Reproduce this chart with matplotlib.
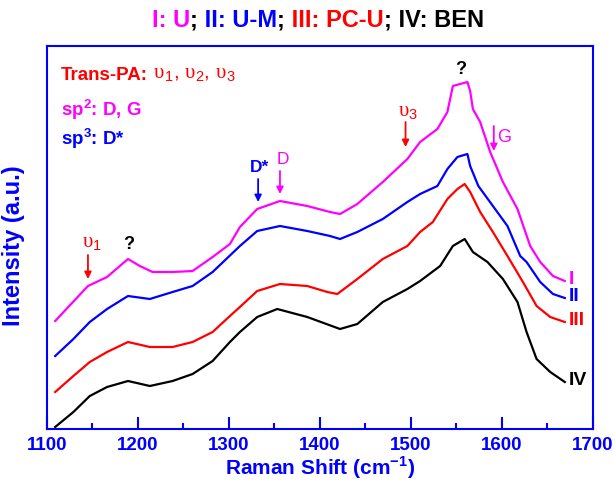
import matplotlib
matplotlib.use('Agg')
import matplotlib.pyplot as plt
from matplotlib.ticker import MultipleLocator

plt.rcParams['font.family'] = 'Liberation Sans'
plt.rcParams['mathtext.fontset'] = 'custom'
plt.rcParams['mathtext.rm'] = 'Liberation Serif'
plt.rcParams['mathtext.sf'] = 'Liberation Sans'
plt.rcParams['mathtext.bf'] = 'Liberation Sans:bold'

MAG = '#ff00ff'
BLUE = '#0000ff'
RED = '#ff0000'
BLACK = '#000000'

# Raman spectra (shift in cm-1, intensity in a.u.)
shift_I = [1109, 1145, 1166, 1189, 1202, 1216, 1238, 1260, 1282, 1301, 1312, 1331, 1356, 1386,
           1411, 1422, 1441, 1469, 1496, 1510, 1529, 1540, 1546, 1554, 1562, 1565, 1568, 1576,
           1587, 1601, 1617, 1631, 1642, 1656, 1669]
int_I = [108, 143, 152, 170, 163, 157, 157, 158, 172, 185, 202, 220, 228, 223,
         217, 215, 225, 247, 270, 287, 300, 317, 343, 345, 347, 338, 320, 307,
         277, 247, 220, 183, 167, 153, 148]

shift_II = [1109, 1129, 1147, 1166, 1189, 1213, 1238, 1260, 1282, 1312, 1331, 1356, 1386, 1411,
            1422, 1441, 1469, 1496, 1510, 1529, 1540, 1551, 1562, 1565, 1574, 1590, 1606, 1620,
            1627, 1642, 1656, 1669]
int_II = [73, 90, 107, 120, 133, 130, 137, 143, 157, 183, 198, 203, 198, 193,
          190, 197, 210, 227, 235, 243, 260, 272, 275, 263, 243, 223, 203, 173,
          167, 147, 135, 131]

shift_III = [1109, 1129, 1147, 1166, 1189, 1213, 1238, 1260, 1282, 1301, 1312, 1331, 1356, 1386,
             1408, 1419, 1441, 1469, 1496, 1510, 1524, 1540, 1551, 1559, 1565, 1576, 1590, 1606,
             1623, 1638, 1653, 1669]
int_III = [37, 53, 67, 77, 87, 82, 82, 87, 97, 113, 122, 138, 145, 143,
           137, 135, 150, 170, 183, 197, 207, 230, 240, 245, 237, 217, 197, 173,
           147, 123, 112, 107]

shift_IV = [1109, 1129, 1147, 1166, 1189, 1213, 1238, 1260, 1282, 1301, 1312, 1331, 1353, 1386,
            1422, 1441, 1469, 1496, 1510, 1532, 1546, 1559, 1568, 1584, 1601, 1617, 1627, 1638,
            1653, 1669]
int_IV = [2, 17, 33, 42, 48, 43, 48, 55, 68, 87, 97, 112, 120, 112,
          100, 105, 127, 140, 148, 163, 183, 190, 177, 167, 150, 127, 97, 70,
          57, 47]

curves = [(shift_I, int_I, MAG, 'I'), (shift_II, int_II, BLUE, 'II'),
          (shift_III, int_III, RED, 'III'), (shift_IV, int_IV, BLACK, 'IV')]

fig = plt.figure(figsize=(6.15, 4.85), dpi=100)
ax = fig.add_axes([47 / 615, 1 - 430 / 485, 546 / 615, 383 / 485])

for x, y, c, name in curves:
    ax.plot(x, y, color=c, lw=1.6)
    ax.text(x[-1] + 4, y[-1] + 2, name, color=c, fontsize=14, fontweight='bold',
            ha='left', va='center')

ax.set_xlim(1100, 1700)
ax.set_ylim(0, 383)
ax.xaxis.set_major_locator(MultipleLocator(100))
ax.xaxis.set_minor_locator(MultipleLocator(50))
ax.tick_params(axis='x', which='major', direction='in', length=9, width=1.5,
               color=BLUE, labelcolor=BLUE, labelsize=13.5, pad=5)
ax.tick_params(axis='x', which='minor', direction='in', length=4.5, width=1.5, color=BLUE)
ax.set_yticks([])
for s in ax.spines.values():
    s.set_color(BLUE)
    s.set_linewidth(1.5)
plt.setp(ax.get_xticklabels(), fontweight='bold')

ax.set_xlabel(r'Raman Shift (cm$^\mathbf{-1}$)', color=BLUE, fontsize=15,
              fontweight='bold', labelpad=0)
ax.set_ylabel('Intensity (a.u.)', color=BLUE, fontsize=17, fontweight='bold')
ax.yaxis.set_label_coords(-22 / 546, 0.5 - 7 / 383)

# peak markers
def mark(x, y0, y1, c):
    ax.annotate('', xy=(x, y1), xytext=(x, y0),
                arrowprops=dict(arrowstyle='-|>', color=c, lw=1.3, mutation_scale=10,
                                shrinkA=0, shrinkB=0))

mark(1145, 174, 150, RED)
ax.text(1149, 186, r'$\mathrm{υ}_\mathsf{1}$', color=RED, fontsize=15, ha='center', va='center')
ax.text(1190, 185, '?', color=BLACK, fontsize=13, fontweight='bold', ha='center', va='center')
mark(1332, 250, 227, BLUE)
ax.text(1334, 262, 'D*', color=BLUE, fontsize=12.5, fontweight='bold', ha='center', va='center')
mark(1356, 258, 235, MAG)
ax.text(1359, 270, 'D', color=MAG, fontsize=12.5, ha='center', va='center')
mark(1494, 307, 282, RED)
ax.text(1497, 317, r'$\mathrm{υ}_\mathsf{3}$', color=RED, fontsize=15, ha='center', va='center')
mark(1591, 303, 278, MAG)
ax.text(1595, 292, 'G', color=MAG, fontsize=13, ha='left', va='center')
ax.text(1555, 360, '?', color=BLACK, fontsize=13, fontweight='bold', ha='center', va='center')

# assignment notes, top left
t = ax.text(0.026, 0.915, 'Trans-PA:', transform=ax.transAxes, color=RED, fontsize=13.5,
            fontweight='bold', va='baseline')
ax.annotate(r' $\mathrm{υ}_\mathsf{1}$, $\mathrm{υ}_\mathsf{2}$, $\mathrm{υ}_\mathsf{3}$',
            xy=(1, 0), xycoords=t, color=RED, fontsize=15, va='bottom')
ax.text(0.026, 0.82, r'sp$^\mathbf{2}$: D, G', transform=ax.transAxes, color=MAG,
        fontsize=13.5, fontweight='bold', va='baseline')
ax.text(0.026, 0.745, r'sp$^\mathbf{3}$: D*', transform=ax.transAxes, color=BLUE,
        fontsize=13.5, fontweight='bold', va='baseline')

# title in four colours, pieces chained left to right
parts = [('I: U', MAG), (';', BLACK), (' II: U-M', BLUE), (';', BLACK),
         (' III: PC-U', RED), ('; IV: BEN', BLACK)]
last = fig.text(152 / 615, 1 - 27 / 485, parts[0][0], color=parts[0][1], fontsize=17,
                fontweight='bold', va='baseline')
for s, c in parts[1:]:
    last = ax.annotate(s, xy=(1, 0), xycoords=last, color=c, fontsize=17,
                       fontweight='bold', va='bottom', annotation_clip=False)

fig.savefig('out.png', dpi=100)
